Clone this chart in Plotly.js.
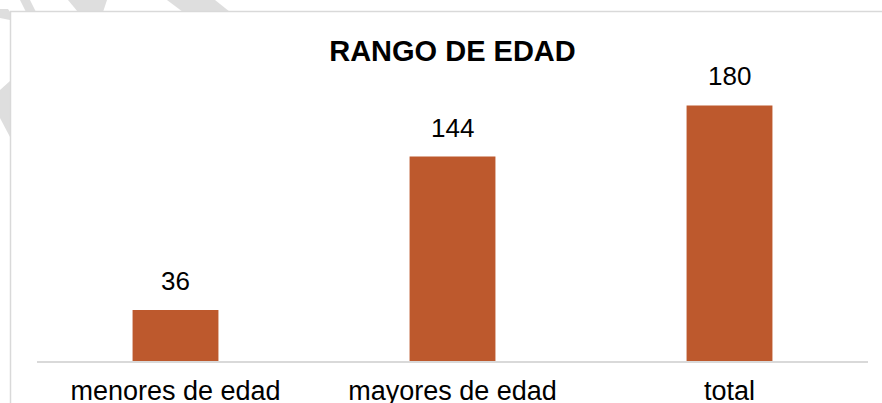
<!DOCTYPE html>
<html>
<head>
<meta charset="utf-8">
<script src="https://cdn.plot.ly/plotly-3.0.1.min.js"></script>
<style>
html,body{margin:0;padding:0;background:#fff;}
#chart{width:882px;height:403px;}
</style>
</head>
<body>
<div id="chart"></div>
<script>
// ---- data ----
const categories = ["menores de edad", "mayores de edad", "total"];
const values = [36, 144, 180];
const chartTitle = "RANGO DE EDAD";

// ---- layout geometry (pixels) ----
const W = 882, H = 403;
const M = {l: 37, r: 14, t: 77, b: 42};
const PW = W - M.l - M.r, PH = H - M.t - M.b;
const px = x => (x - M.l) / PW;
const py = y => (H - M.b - y) / PH;
function poly(pts){
  return "M" + pts.map(p => px(p[0]) + "," + py(p[1])).join(" L") + " Z";
}

// decorative background stripes (outside the chart box)
const stripeColor = "#dedede";
const stripes = [
  [[20,0],[30,0],[36,12],[26,12]],
  [[68,0],[107,0],[103,12],[78,12]],
  [[167,0],[215,0],[230,12],[183,12]],
  [[0,9],[8,9],[10,12],[10,20],[0,18]],
  [[0,90],[10,81],[10,137],[0,118]]
];
const shapes = stripes.map(s => ({
  type: "path", xref: "paper", yref: "paper", layer: "below",
  path: poly(s), fillcolor: stripeColor, line: {width: 0}
}));
// chart box
shapes.push({
  type: "rect", xref: "paper", yref: "paper", layer: "below",
  x0: px(10.5), x1: px(900), y0: py(11.5), y1: py(430),
  fillcolor: "#ffffff", line: {color: "#d9d9d9", width: 1.5}
});

const annotations = categories.map((c, i) => ({
  x: c, y: values[i], xref: "x", yref: "y",
  text: String(values[i]), showarrow: false,
  yanchor: "bottom", yshift: 12,
  font: {family: "Liberation Sans, Arial, sans-serif", size: 26, color: "#000"}
}));

const trace = {
  type: "bar",
  x: categories,
  y: values,
  marker: {color: "#BD592D"},
  hoverinfo: "skip"
};

const layout = {
  width: W, height: H,
  margin: M,
  paper_bgcolor: "#ffffff",
  plot_bgcolor: "rgba(0,0,0,0)",
  showlegend: false,
  bargap: 0.69,
  title: {
    text: "<b>" + chartTitle + "</b>",
    font: {family: "Liberation Sans, Arial, sans-serif", size: 29, color: "#000"},
    x: 0.5, xref: "paper", xanchor: "center",
    y: 1 - 51 / H, yref: "container", yanchor: "middle"
  },
  xaxis: {
    type: "category",
    showline: true, linecolor: "#d9d9d9", linewidth: 1.5,
    ticks: "", showgrid: false, zeroline: false,
    tickfont: {family: "Liberation Sans, Arial, sans-serif", size: 27, color: "#000"},
    ticklabelstandoff: 5
  },
  yaxis: {
    range: [0, 200],
    visible: false, showgrid: false, zeroline: false
  },
  shapes: shapes,
  annotations: annotations
};

Plotly.newPlot("chart", [trace], layout, {displayModeBar: false, staticPlot: true});
</script>
</body>
</html>
